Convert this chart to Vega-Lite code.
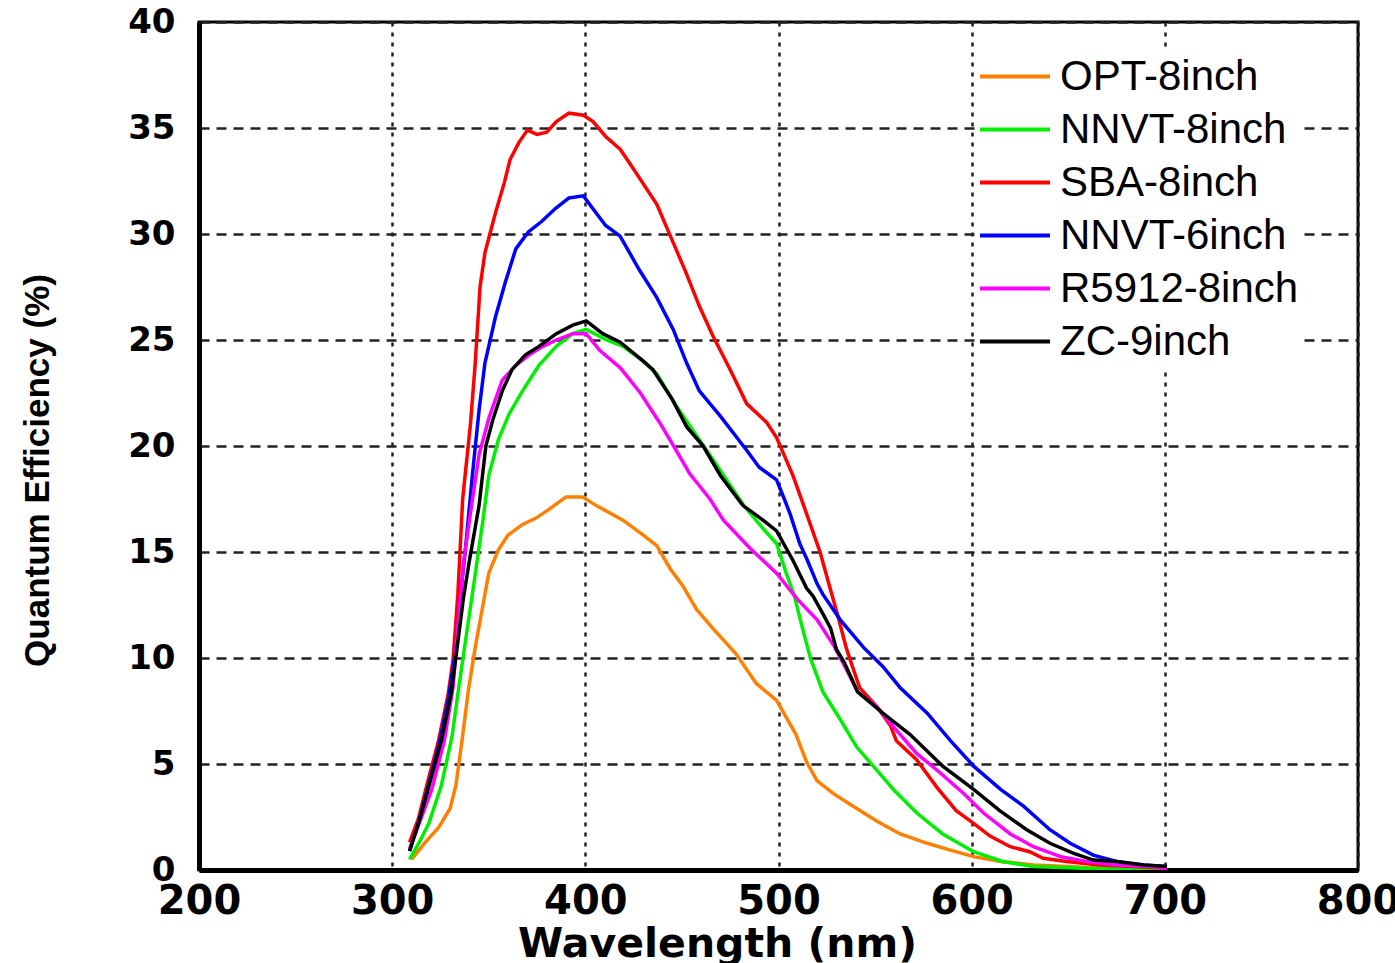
{
  "$schema": "https://vega.github.io/schema/vega-lite/v6.json",
  "autosize": "none",
  "width": 1159,
  "height": 848,
  "padding": {"left": 199, "top": 22, "right": 37, "bottom": 93},
  "background": "white",
  "config": {
    "view": {"stroke": "black", "strokeWidth": 3},
    "axis": {"labelColor": "black", "titleColor": "black"}
  },
  "data": {"values": [
    {"s":"OPT-8inch","w":310,"q":0.5},{"s":"OPT-8inch","w":318,"q":1.4},{"s":"OPT-8inch","w":324,"q":2.0},{"s":"OPT-8inch","w":330,"q":2.9},{"s":"OPT-8inch","w":333,"q":4.0},{"s":"OPT-8inch","w":336,"q":6.0},{"s":"OPT-8inch","w":339.5,"q":8.5},{"s":"OPT-8inch","w":343,"q":10.5},{"s":"OPT-8inch","w":347,"q":12.5},{"s":"OPT-8inch","w":350,"q":14.0},{"s":"OPT-8inch","w":355,"q":15.1},{"s":"OPT-8inch","w":360,"q":15.8},{"s":"OPT-8inch","w":367.5,"q":16.3},{"s":"OPT-8inch","w":374.5,"q":16.6},{"s":"OPT-8inch","w":381,"q":17.0},{"s":"OPT-8inch","w":390,"q":17.6},{"s":"OPT-8inch","w":398.5,"q":17.6},{"s":"OPT-8inch","w":405.5,"q":17.2},{"s":"OPT-8inch","w":419.5,"q":16.5},{"s":"OPT-8inch","w":430,"q":15.8},{"s":"OPT-8inch","w":437,"q":15.3},{"s":"OPT-8inch","w":444,"q":14.2},{"s":"OPT-8inch","w":450.5,"q":13.4},{"s":"OPT-8inch","w":457.5,"q":12.3},{"s":"OPT-8inch","w":466,"q":11.4},{"s":"OPT-8inch","w":478,"q":10.2},{"s":"OPT-8inch","w":488.5,"q":8.8},{"s":"OPT-8inch","w":499,"q":8.0},{"s":"OPT-8inch","w":504,"q":7.2},{"s":"OPT-8inch","w":509,"q":6.4},{"s":"OPT-8inch","w":514.5,"q":5.1},{"s":"OPT-8inch","w":520,"q":4.2},{"s":"OPT-8inch","w":528.5,"q":3.6},{"s":"OPT-8inch","w":537,"q":3.1},{"s":"OPT-8inch","w":551,"q":2.3},{"s":"OPT-8inch","w":563,"q":1.7},{"s":"OPT-8inch","w":577,"q":1.26},{"s":"OPT-8inch","w":589,"q":0.94},{"s":"OPT-8inch","w":601,"q":0.63},{"s":"OPT-8inch","w":615,"q":0.4},{"s":"OPT-8inch","w":632,"q":0.24},{"s":"OPT-8inch","w":649,"q":0.16},{"s":"OPT-8inch","w":666,"q":0.08},{"s":"OPT-8inch","w":680,"q":0.03},
    {"s":"NNVT-8inch","w":309,"q":0.5},{"s":"NNVT-8inch","w":314,"q":1.3},{"s":"NNVT-8inch","w":319,"q":2.2},{"s":"NNVT-8inch","w":325.5,"q":4.0},{"s":"NNVT-8inch","w":331,"q":6.3},{"s":"NNVT-8inch","w":334,"q":8.3},{"s":"NNVT-8inch","w":337,"q":10.2},{"s":"NNVT-8inch","w":341.5,"q":13.0},{"s":"NNVT-8inch","w":347,"q":16.5},{"s":"NNVT-8inch","w":350,"q":18.6},{"s":"NNVT-8inch","w":355,"q":20.3},{"s":"NNVT-8inch","w":360.5,"q":21.5},{"s":"NNVT-8inch","w":367.5,"q":22.6},{"s":"NNVT-8inch","w":376,"q":23.8},{"s":"NNVT-8inch","w":385,"q":24.7},{"s":"NNVT-8inch","w":393.5,"q":25.3},{"s":"NNVT-8inch","w":400.5,"q":25.5},{"s":"NNVT-8inch","w":411,"q":25.0},{"s":"NNVT-8inch","w":419.5,"q":24.7},{"s":"NNVT-8inch","w":430,"q":24.0},{"s":"NNVT-8inch","w":437,"q":23.4},{"s":"NNVT-8inch","w":447,"q":21.9},{"s":"NNVT-8inch","w":457.5,"q":20.5},{"s":"NNVT-8inch","w":468,"q":19.1},{"s":"NNVT-8inch","w":482,"q":17.2},{"s":"NNVT-8inch","w":492,"q":16.1},{"s":"NNVT-8inch","w":499,"q":15.4},{"s":"NNVT-8inch","w":504,"q":14.0},{"s":"NNVT-8inch","w":508,"q":13.0},{"s":"NNVT-8inch","w":513,"q":11.2},{"s":"NNVT-8inch","w":516.5,"q":10.0},{"s":"NNVT-8inch","w":523,"q":8.4},{"s":"NNVT-8inch","w":532,"q":7.1},{"s":"NNVT-8inch","w":540.5,"q":5.8},{"s":"NNVT-8inch","w":551,"q":4.7},{"s":"NNVT-8inch","w":559.5,"q":3.8},{"s":"NNVT-8inch","w":571.5,"q":2.7},{"s":"NNVT-8inch","w":585,"q":1.7},{"s":"NNVT-8inch","w":601,"q":0.86},{"s":"NNVT-8inch","w":616,"q":0.4},{"s":"NNVT-8inch","w":632,"q":0.16},{"s":"NNVT-8inch","w":658,"q":0.08},{"s":"NNVT-8inch","w":700,"q":0.03},
    {"s":"SBA-8inch","w":309,"q":1.3},{"s":"SBA-8inch","w":313.5,"q":2.4},{"s":"SBA-8inch","w":318.5,"q":4.2},{"s":"SBA-8inch","w":324,"q":6.1},{"s":"SBA-8inch","w":329,"q":8.3},{"s":"SBA-8inch","w":331.5,"q":9.9},{"s":"SBA-8inch","w":334,"q":13.0},{"s":"SBA-8inch","w":336.5,"q":17.5},{"s":"SBA-8inch","w":340.5,"q":21.0},{"s":"SBA-8inch","w":343,"q":23.9},{"s":"SBA-8inch","w":345.5,"q":27.5},{"s":"SBA-8inch","w":348,"q":29.1},{"s":"SBA-8inch","w":350,"q":29.8},{"s":"SBA-8inch","w":353.5,"q":31.0},{"s":"SBA-8inch","w":358,"q":32.4},{"s":"SBA-8inch","w":361,"q":33.5},{"s":"SBA-8inch","w":365.5,"q":34.3},{"s":"SBA-8inch","w":370,"q":34.9},{"s":"SBA-8inch","w":375,"q":34.7},{"s":"SBA-8inch","w":380,"q":34.8},{"s":"SBA-8inch","w":385,"q":35.3},{"s":"SBA-8inch","w":391.5,"q":35.7},{"s":"SBA-8inch","w":399,"q":35.6},{"s":"SBA-8inch","w":404,"q":35.3},{"s":"SBA-8inch","w":410.5,"q":34.6},{"s":"SBA-8inch","w":418,"q":34.0},{"s":"SBA-8inch","w":424,"q":33.2},{"s":"SBA-8inch","w":437,"q":31.4},{"s":"SBA-8inch","w":445,"q":29.7},{"s":"SBA-8inch","w":452,"q":28.2},{"s":"SBA-8inch","w":459,"q":26.6},{"s":"SBA-8inch","w":466,"q":25.2},{"s":"SBA-8inch","w":475,"q":23.6},{"s":"SBA-8inch","w":483.5,"q":22.0},{"s":"SBA-8inch","w":494,"q":21.1},{"s":"SBA-8inch","w":499,"q":20.4},{"s":"SBA-8inch","w":507.5,"q":18.6},{"s":"SBA-8inch","w":513,"q":17.2},{"s":"SBA-8inch","w":521.5,"q":15.0},{"s":"SBA-8inch","w":527,"q":13.2},{"s":"SBA-8inch","w":531,"q":11.9},{"s":"SBA-8inch","w":535,"q":10.5},{"s":"SBA-8inch","w":539,"q":9.4},{"s":"SBA-8inch","w":542,"q":8.6},{"s":"SBA-8inch","w":551,"q":7.7},{"s":"SBA-8inch","w":558,"q":6.8},{"s":"SBA-8inch","w":561,"q":6.1},{"s":"SBA-8inch","w":571.5,"q":5.2},{"s":"SBA-8inch","w":582,"q":3.9},{"s":"SBA-8inch","w":592,"q":2.8},{"s":"SBA-8inch","w":601,"q":2.2},{"s":"SBA-8inch","w":609.5,"q":1.6},{"s":"SBA-8inch","w":620,"q":1.1},{"s":"SBA-8inch","w":630,"q":0.86},{"s":"SBA-8inch","w":637,"q":0.55},{"s":"SBA-8inch","w":649,"q":0.4},{"s":"SBA-8inch","w":666,"q":0.24},{"s":"SBA-8inch","w":684,"q":0.16},{"s":"SBA-8inch","w":701,"q":0.08},
    {"s":"NNVT-6inch","w":309,"q":0.9},{"s":"NNVT-6inch","w":313.5,"q":2.2},{"s":"NNVT-6inch","w":318.5,"q":3.9},{"s":"NNVT-6inch","w":324,"q":5.8},{"s":"NNVT-6inch","w":329,"q":8.0},{"s":"NNVT-6inch","w":333.5,"q":10.8},{"s":"NNVT-6inch","w":336,"q":13.5},{"s":"NNVT-6inch","w":338,"q":15.2},{"s":"NNVT-6inch","w":341.5,"q":18.6},{"s":"NNVT-6inch","w":345,"q":21.7},{"s":"NNVT-6inch","w":348,"q":23.9},{"s":"NNVT-6inch","w":353.5,"q":26.1},{"s":"NNVT-6inch","w":358.5,"q":27.7},{"s":"NNVT-6inch","w":364,"q":29.3},{"s":"NNVT-6inch","w":370.5,"q":30.1},{"s":"NNVT-6inch","w":377.5,"q":30.6},{"s":"NNVT-6inch","w":384.5,"q":31.2},{"s":"NNVT-6inch","w":391.5,"q":31.7},{"s":"NNVT-6inch","w":399,"q":31.8},{"s":"NNVT-6inch","w":405.5,"q":31.0},{"s":"NNVT-6inch","w":410.5,"q":30.4},{"s":"NNVT-6inch","w":418,"q":29.9},{"s":"NNVT-6inch","w":428,"q":28.3},{"s":"NNVT-6inch","w":437,"q":27.0},{"s":"NNVT-6inch","w":445.5,"q":25.5},{"s":"NNVT-6inch","w":452.5,"q":23.9},{"s":"NNVT-6inch","w":459,"q":22.6},{"s":"NNVT-6inch","w":470,"q":21.4},{"s":"NNVT-6inch","w":483.5,"q":19.8},{"s":"NNVT-6inch","w":490,"q":19.0},{"s":"NNVT-6inch","w":499,"q":18.4},{"s":"NNVT-6inch","w":503,"q":17.5},{"s":"NNVT-6inch","w":506,"q":16.8},{"s":"NNVT-6inch","w":511,"q":15.4},{"s":"NNVT-6inch","w":515,"q":14.6},{"s":"NNVT-6inch","w":520,"q":13.5},{"s":"NNVT-6inch","w":523,"q":13.0},{"s":"NNVT-6inch","w":532,"q":11.8},{"s":"NNVT-6inch","w":544,"q":10.5},{"s":"NNVT-6inch","w":554,"q":9.6},{"s":"NNVT-6inch","w":563,"q":8.6},{"s":"NNVT-6inch","w":577,"q":7.4},{"s":"NNVT-6inch","w":589,"q":6.1},{"s":"NNVT-6inch","w":601,"q":4.9},{"s":"NNVT-6inch","w":615,"q":3.8},{"s":"NNVT-6inch","w":627,"q":3.0},{"s":"NNVT-6inch","w":640.5,"q":1.9},{"s":"NNVT-6inch","w":651,"q":1.26},{"s":"NNVT-6inch","w":663,"q":0.7},{"s":"NNVT-6inch","w":675,"q":0.4},{"s":"NNVT-6inch","w":689,"q":0.24},{"s":"NNVT-6inch","w":701,"q":0.16},
    {"s":"R5912-8inch","w":309,"q":1.0},{"s":"R5912-8inch","w":314,"q":2.2},{"s":"R5912-8inch","w":320.5,"q":3.8},{"s":"R5912-8inch","w":327,"q":6.1},{"s":"R5912-8inch","w":331.5,"q":8.6},{"s":"R5912-8inch","w":334.5,"q":12.0},{"s":"R5912-8inch","w":337,"q":14.5},{"s":"R5912-8inch","w":340,"q":16.5},{"s":"R5912-8inch","w":345,"q":19.6},{"s":"R5912-8inch","w":350,"q":21.3},{"s":"R5912-8inch","w":357,"q":23.1},{"s":"R5912-8inch","w":364,"q":23.8},{"s":"R5912-8inch","w":371,"q":24.3},{"s":"R5912-8inch","w":378,"q":24.7},{"s":"R5912-8inch","w":385,"q":25.0},{"s":"R5912-8inch","w":393.5,"q":25.3},{"s":"R5912-8inch","w":400.5,"q":25.3},{"s":"R5912-8inch","w":407.5,"q":24.5},{"s":"R5912-8inch","w":418,"q":23.7},{"s":"R5912-8inch","w":428.5,"q":22.5},{"s":"R5912-8inch","w":438.5,"q":21.1},{"s":"R5912-8inch","w":447,"q":19.8},{"s":"R5912-8inch","w":454,"q":18.7},{"s":"R5912-8inch","w":464.5,"q":17.5},{"s":"R5912-8inch","w":471.5,"q":16.5},{"s":"R5912-8inch","w":485,"q":15.2},{"s":"R5912-8inch","w":499,"q":14.0},{"s":"R5912-8inch","w":509.5,"q":12.8},{"s":"R5912-8inch","w":520,"q":11.8},{"s":"R5912-8inch","w":528.5,"q":10.6},{"s":"R5912-8inch","w":535.5,"q":9.4},{"s":"R5912-8inch","w":541,"q":8.4},{"s":"R5912-8inch","w":551,"q":7.7},{"s":"R5912-8inch","w":561,"q":6.6},{"s":"R5912-8inch","w":571.5,"q":5.5},{"s":"R5912-8inch","w":583.5,"q":4.6},{"s":"R5912-8inch","w":596,"q":3.6},{"s":"R5912-8inch","w":606,"q":2.7},{"s":"R5912-8inch","w":620,"q":1.7},{"s":"R5912-8inch","w":632,"q":1.1},{"s":"R5912-8inch","w":646,"q":0.63},{"s":"R5912-8inch","w":659.5,"q":0.4},{"s":"R5912-8inch","w":675,"q":0.24},{"s":"R5912-8inch","w":692,"q":0.16},{"s":"R5912-8inch","w":701,"q":0.08},
    {"s":"ZC-9inch","w":309,"q":0.9},{"s":"ZC-9inch","w":314,"q":2.3},{"s":"ZC-9inch","w":318.5,"q":3.8},{"s":"ZC-9inch","w":325.5,"q":6.1},{"s":"ZC-9inch","w":330.5,"q":8.3},{"s":"ZC-9inch","w":333.5,"q":10.4},{"s":"ZC-9inch","w":337,"q":12.9},{"s":"ZC-9inch","w":340,"q":14.6},{"s":"ZC-9inch","w":345,"q":17.2},{"s":"ZC-9inch","w":348.5,"q":20.0},{"s":"ZC-9inch","w":352,"q":21.2},{"s":"ZC-9inch","w":357,"q":22.6},{"s":"ZC-9inch","w":362,"q":23.6},{"s":"ZC-9inch","w":369,"q":24.3},{"s":"ZC-9inch","w":376,"q":24.7},{"s":"ZC-9inch","w":385,"q":25.3},{"s":"ZC-9inch","w":393.5,"q":25.7},{"s":"ZC-9inch","w":400.5,"q":25.9},{"s":"ZC-9inch","w":409,"q":25.3},{"s":"ZC-9inch","w":418,"q":24.9},{"s":"ZC-9inch","w":430,"q":24.0},{"s":"ZC-9inch","w":435,"q":23.6},{"s":"ZC-9inch","w":445,"q":22.2},{"s":"ZC-9inch","w":452.5,"q":20.9},{"s":"ZC-9inch","w":461,"q":20.0},{"s":"ZC-9inch","w":470,"q":18.6},{"s":"ZC-9inch","w":481.5,"q":17.2},{"s":"ZC-9inch","w":492,"q":16.5},{"s":"ZC-9inch","w":499,"q":16.0},{"s":"ZC-9inch","w":507.5,"q":14.6},{"s":"ZC-9inch","w":514.5,"q":13.3},{"s":"ZC-9inch","w":518,"q":12.9},{"s":"ZC-9inch","w":523.5,"q":12.0},{"s":"ZC-9inch","w":527,"q":11.4},{"s":"ZC-9inch","w":530,"q":10.4},{"s":"ZC-9inch","w":534,"q":9.8},{"s":"ZC-9inch","w":541,"q":8.4},{"s":"ZC-9inch","w":554,"q":7.4},{"s":"ZC-9inch","w":568,"q":6.4},{"s":"ZC-9inch","w":585,"q":4.9},{"s":"ZC-9inch","w":601,"q":3.8},{"s":"ZC-9inch","w":614.5,"q":2.8},{"s":"ZC-9inch","w":628.5,"q":1.9},{"s":"ZC-9inch","w":640.5,"q":1.26},{"s":"ZC-9inch","w":652.5,"q":0.8},{"s":"ZC-9inch","w":663,"q":0.47},{"s":"ZC-9inch","w":675,"q":0.4},{"s":"ZC-9inch","w":689,"q":0.24},{"s":"ZC-9inch","w":701,"q":0.16}
  ]},
  "mark": {"type": "line", "strokeWidth": 3.5, "clip": true},
  "encoding": {
    "x": {
      "field": "w", "type": "quantitative",
      "scale": {"domain": [200, 800], "nice": false, "zero": false},
      "axis": {
        "title": "Wavelength (nm)",
        "values": [200, 300, 400, 500, 600, 700, 800],
        "format": "d",
        "grid": true, "gridDash": [4, 6], "gridColor": "#222", "gridWidth": 2.5,
        "ticks": false, "domain": true, "domainColor": "black", "domainWidth": 5,
        "labelFont": "DejaVu Sans", "labelFontWeight": "bold", "labelFontSize": 40,
        "labelPadding": 11, "labelOverlap": false, "labelFlush": false, "labelBound": false,
        "titleFont": "DejaVu Sans", "titleFontWeight": "bold", "titleFontSize": 41,
        "titleX": 518, "titleY": 74, "titleAlign": "center", "titleBaseline": "middle"
      }
    },
    "y": {
      "field": "q", "type": "quantitative",
      "scale": {"domain": [0, 40], "nice": false},
      "axis": {
        "title": "Quantum Efficiency (%)",
        "values": [0, 5, 10, 15, 20, 25, 30, 35, 40],
        "grid": true, "gridDash": [10, 7], "gridColor": "#222", "gridWidth": 2.5,
        "ticks": false, "domain": true, "domainColor": "black", "domainWidth": 5,
        "labelFont": "DejaVu Sans", "labelFontWeight": "bold", "labelFontSize": 34,
        "labelPadding": 24, "labelOverlap": false, "labelFlush": false, "labelBound": false,
        "titleFont": "Liberation Sans", "titleFontWeight": "bold", "titleFontSize": 35,
        "titleAngle": -90, "titleX": -162, "titleY": 448, "titleAlign": "center", "titleBaseline": "middle"
      }
    },
    "color": {
      "field": "s", "type": "nominal",
      "scale": {
        "domain": ["OPT-8inch", "NNVT-8inch", "SBA-8inch", "NNVT-6inch", "R5912-8inch", "ZC-9inch"],
        "range": ["#FF8000", "#00EE00", "#FF0000", "#0000FF", "#FF00FF", "#000000"]
      },
      "legend": {
        "title": null,
        "orient": "none", "legendX": 777, "legendY": 26,
        "direction": "vertical",
        "symbolType": "stroke", "symbolSize": 4900, "symbolStrokeWidth": 4,
        "labelFont": "Liberation Sans", "labelFontSize": 42, "labelColor": "black",
        "labelOffset": 8, "rowPadding": 0, "clipHeight": 53, "padding": 2,
        "fillColor": "white", "labelLimit": 400
      }
    }
  }
}
